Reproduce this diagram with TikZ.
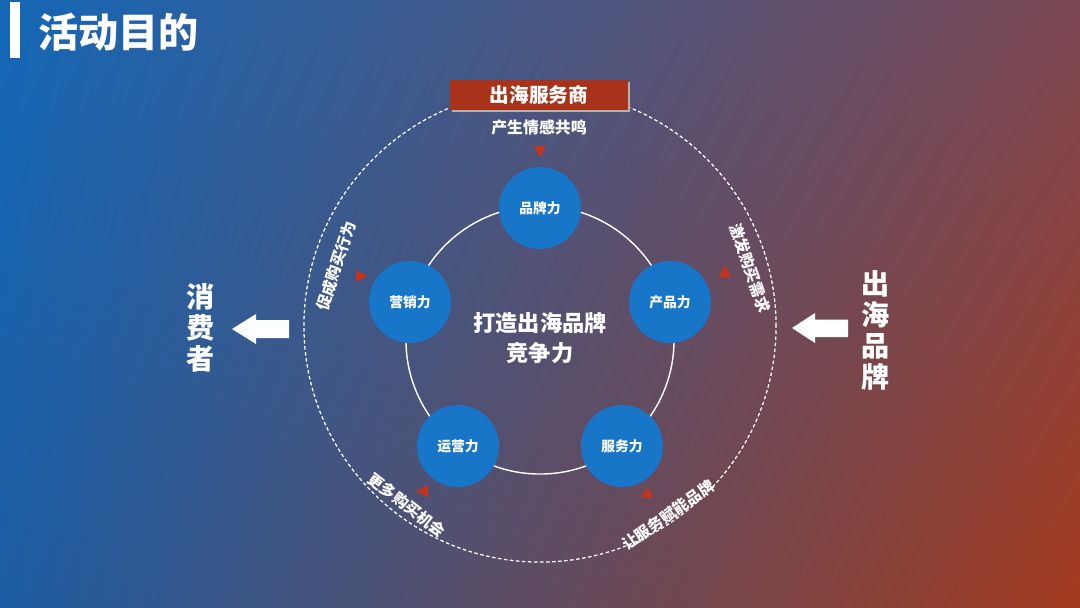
\documentclass[tikz,border=0pt]{standalone}
\usepackage{fontspec}
\newfontfamily\cjk{Noto Sans CJK SC}
\usepackage{tikz}
\usetikzlibrary{positioning}
\usetikzlibrary{shadings}

\definecolor{bgblue}{HTML}{1467B6}
\definecolor{bgblue2}{HTML}{1D5DA3}
\definecolor{bgred}{HTML}{A33A1E}
\definecolor{bgred2}{HTML}{7A4652}
\definecolor{boxred}{HTML}{A8321A}
\definecolor{ballblue}{HTML}{1776C8}
\definecolor{tipred}{HTML}{C8341A}

\begin{document}
\begin{tikzpicture}[x=0.025cm, y=-0.025cm,
    every node/.style={font=\cjk\bfseries, text=white, inner sep=0pt},
    ball/.style={circle, fill=ballblue, minimum size=2.05cm, font=\cjk\bfseries\fontsize{9.8}{11}\selectfont},
    arclabel/.style={font=\cjk\bfseries\fontsize{11}{13}\selectfont},
    sidelabel/.style={font=\cjk\bfseries\fontsize{20}{22}\selectfont, align=center},
    blockarrow/.style={fill=white},
    tip/.style={fill=tipred}
]
    \useasboundingbox (0,0) rectangle (1080,607);
    \shade[upper left=bgblue, lower left=bgblue2, upper right=bgred2, lower right=bgred]
        (0,0) rectangle (1080,607);

    % title
    \fill[white] (10,2) rectangle (20,58);
    \node[anchor=west, font=\cjk\bfseries\fontsize{28.5}{30}\selectfont] (title) at (38,32) {活动目的};

    % circles
    \draw[white, line width=0.9pt, dash pattern=on 2.5pt off 1.8pt] (540,326) circle[radius=5.9cm];
    \draw[white, line width=1pt] (540,340) circle[radius=3.35cm];

    % top box
    \fill[gray!60] (452,82) rectangle (630,112);
    \node[fill=boxred, minimum width=4.45cm, minimum height=0.75cm,
          font=\cjk\bfseries\fontsize{14}{16}\selectfont] (provider) at (539,95) {出海服务商};
    \node[below=0.22cm of provider, font=\cjk\bfseries\fontsize{11.3}{13}\selectfont] (resonance) {产生情感共鸣};

    % pentagon
    \node[ball] (brand) at (540,208) {品牌力};
    \node[ball] (product) at (670,302) {产品力};
    \node[ball] (service) at (622,446) {服务力};
    \node[ball] (operate) at (458,446) {运营力};
    \node[ball] (market) at (410,302) {营销力};
    \node[align=center, font=\cjk\bfseries\fontsize{15.8}{21}\selectfont] (core) at (540,338) {打造出海品牌\\竞争力};

    % red tips
    \fill[tip] (540,157) -- (534,146) -- (546,146) -- cycle;
    \fill[tip] (367,276) -- (356,270) -- (356,282) -- cycle;
    \fill[tip] (725,265) -- (719,277) -- (731,277) -- cycle;
    \fill[tip] (416,491) -- (428,485) -- (428,497) -- cycle;
    \fill[tip] (653,498) -- (641,497) -- (648,488) -- cycle;

    % arc labels
    \node[arclabel, rotate=72] (buyact) at (336,266) {促成购买行为};
    \node[arclabel, rotate=-71] (demand) at (750,268) {激发购买需求};
    \node[arclabel, rotate=-38] (chance) at (407,505) {更多购买机会};
    \node[arclabel, rotate=35] (enable) at (668,515) {让服务赋能品牌};

    % sides
    \node[sidelabel] (consumer) at (201,328) {消\\费\\者};
    \node[sidelabel] (brandside) at (876,330) {出\\海\\品\\牌};
    \fill[blockarrow] (232,329) -- (256,314) -- (256,320) -- (289,320)
        -- (289,338) -- (256,338) -- (256,344) -- cycle;
    \fill[blockarrow] (792,328) -- (815,313) -- (815,319.5) -- (848,319.5)
        -- (848,337) -- (815,337) -- (815,343) -- cycle;
\end{tikzpicture}
\end{document}
